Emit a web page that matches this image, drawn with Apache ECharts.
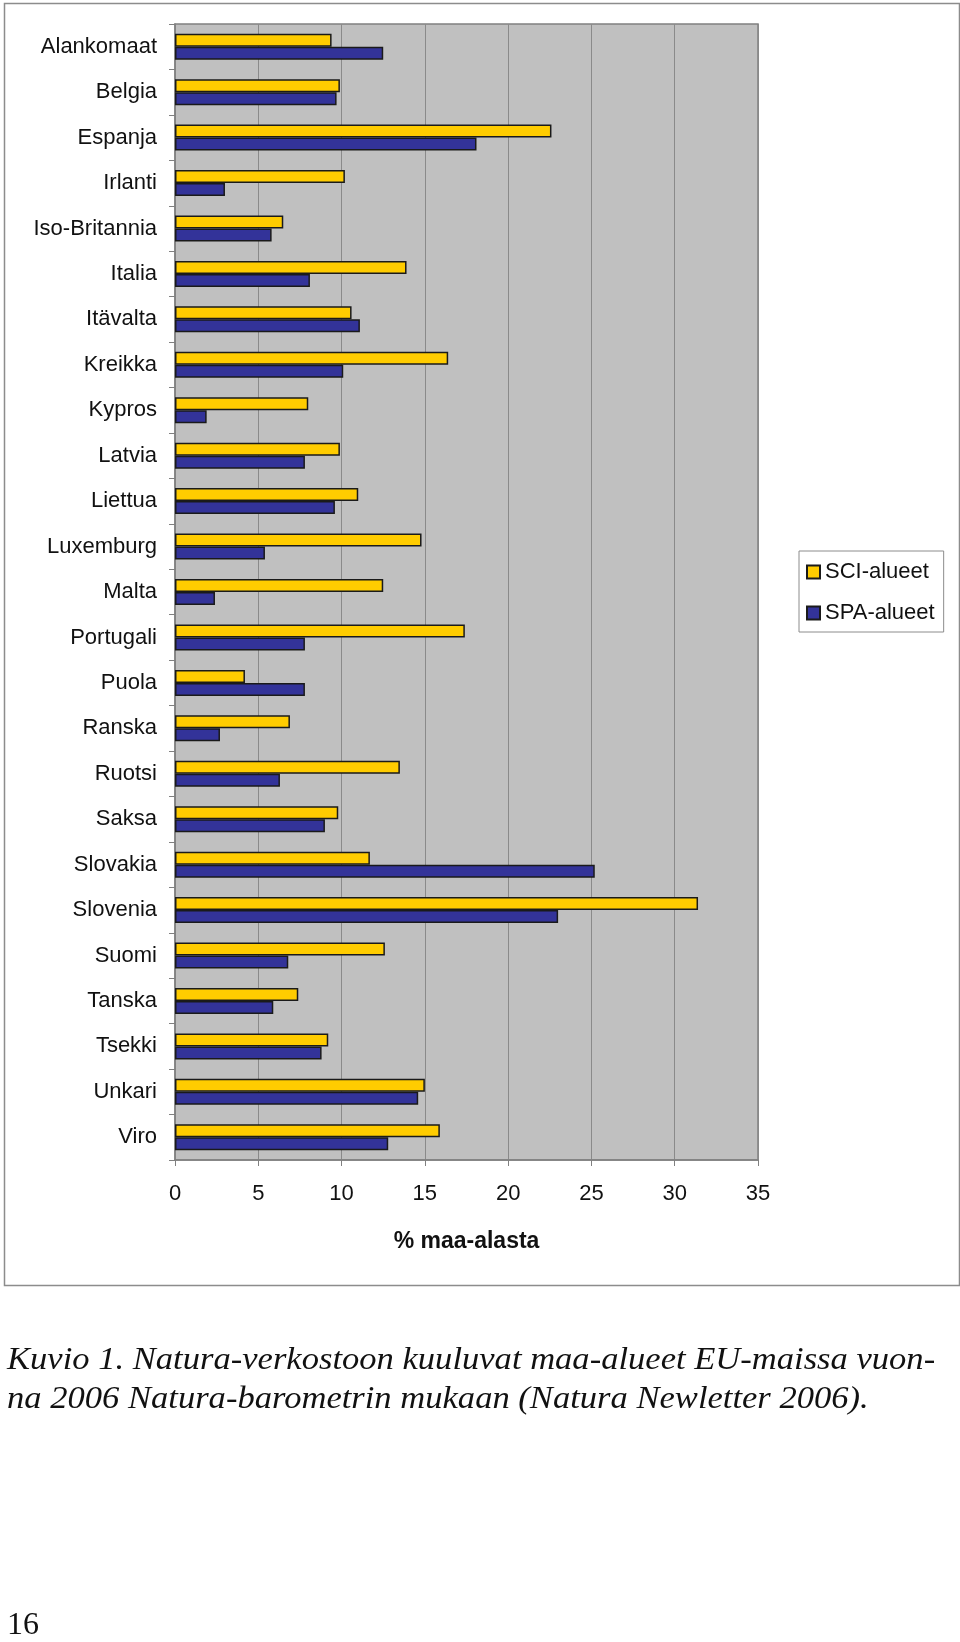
<!DOCTYPE html>
<html>
<head>
<meta charset="utf-8">
<script src="https://cdn.jsdelivr.net/npm/echarts@6/dist/echarts.min.js"></script>
<style>
  html, body { margin: 0; padding: 0; background: #ffffff; }
  #chart { position: absolute; left: 0; top: 0; width: 960px; height: 1642px; }
  .caption {
    position: absolute; left: 7px; top: 1339px;
    font-family: "Liberation Serif", "Times New Roman", serif;
    font-style: italic; font-size: 32px; line-height: 39px; color: #111;
    transform: scaleX(1.08); transform-origin: left top; white-space: nowrap;
  }
  .pagenum {
    position: absolute; left: 7px; top: 1605px;
    font-family: "Liberation Serif", "Times New Roman", serif;
    font-size: 32px; line-height: 36px; color: #111;
  }
</style>
</head>
<body>
<div id="chart"></div>
<div class="caption">Kuvio 1. Natura-verkostoon kuuluvat maa-alueet EU-maissa vuon-<br>na 2006 Natura-barometrin mukaan (Natura Newletter 2006).</div>
<div class="pagenum">16</div>
<script>
const categories = ['Alankomaat','Belgia','Espanja','Irlanti','Iso-Britannia','Italia','Itävalta','Kreikka','Kypros','Latvia','Liettua','Luxemburg','Malta','Portugali','Puola','Ranska','Ruotsi','Saksa','Slovakia','Slovenia','Suomi','Tanska','Tsekki','Unkari','Viro'];
const sciValues = [9.4, 9.9, 22.6, 10.2, 6.5, 13.9, 10.6, 16.4, 8.0, 9.9, 11.0, 14.8, 12.5, 17.4, 4.2, 6.9, 13.5, 9.8, 11.7, 31.4, 12.6, 7.4, 9.2, 15.0, 15.9];
const spaValues = [12.5, 9.7, 18.1, 3.0, 5.8, 8.1, 11.1, 10.1, 1.9, 7.8, 9.6, 5.4, 2.4, 7.8, 7.8, 2.7, 6.3, 9.0, 25.2, 23.0, 6.8, 5.9, 8.8, 14.6, 12.8];
const seriesNames = ['SCI-alueet', 'SPA-alueet'];
const axisTitle = '% maa-alasta';
const xMin = 0, xMax = 35, xInterval = 5;

const FONT = '"Liberation Sans", Arial, sans-serif';
const chart = echarts.init(document.getElementById('chart'), null, { renderer: 'canvas' });
chart.setOption({
  backgroundColor: '#ffffff',
  animation: false,
  graphic: [{
    type: 'rect', z: -10,
    shape: { x: 4.5, y: 3.5, width: 955, height: 1282 },
    style: { fill: 'none', stroke: '#8c8c8c', lineWidth: 1.5 }
  }],
  grid: {
    left: 175, right: 202, top: 24, bottom: 482,
    show: true, backgroundColor: '#C0C0C0', borderColor: '#808080', borderWidth: 1.5
  },
  legend: {
    orient: 'vertical', left: 799, top: 551,
    padding: [10, 9, 8, 7],
    itemWidth: 13, itemHeight: 13, itemGap: 19, itemTextGap: 12,
    borderColor: '#8c8c8c', borderWidth: 1, backgroundColor: '#ffffff',
    icon: 'rect',
    data: seriesNames,
    textStyle: { fontFamily: FONT, fontSize: 22, lineHeight: 22, color: '#111' }
  },
  xAxis: {
    type: 'value', min: xMin, max: xMax, interval: xInterval,
    name: axisTitle, nameLocation: 'middle', nameGap: 70,
    nameTextStyle: { fontFamily: FONT, fontSize: 23, fontWeight: 'bold', color: '#111' },
    axisLine: { show: true, lineStyle: { color: '#808080', width: 1.5 } },
    axisTick: { show: true, length: 6, lineStyle: { color: '#808080' } },
    axisLabel: { fontFamily: FONT, fontSize: 22, color: '#111', margin: 23 },
    splitLine: { show: true, lineStyle: { color: '#8a8a8a', width: 1 } }
  },
  yAxis: {
    type: 'category', data: categories, inverse: true,
    axisLine: { show: true, lineStyle: { color: '#808080', width: 1.5 } },
    axisTick: { show: true, length: 6, lineStyle: { color: '#808080' } },
    axisLabel: { fontFamily: FONT, fontSize: 22, color: '#111', margin: 18 },
    splitLine: { show: false }
  },
  series: [
    {
      name: seriesNames[0], type: 'bar', data: sciValues,
      barWidth: 13, barGap: '0%',
      itemStyle: { color: '#FFCC00', borderColor: '#1a1a1a', borderWidth: 1.5 }
    },
    {
      name: seriesNames[1], type: 'bar', data: spaValues,
      barWidth: 13, barGap: '0%',
      itemStyle: { color: '#333399', borderColor: '#1a1a1a', borderWidth: 1.5 }
    }
  ]
});
</script>
</body>
</html>
